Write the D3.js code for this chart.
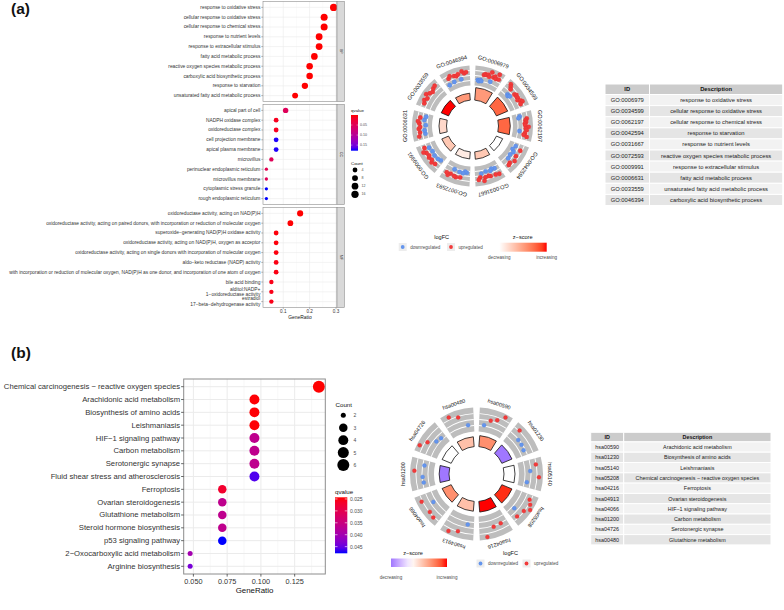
<!DOCTYPE html>
<html><head><meta charset="utf-8">
<script src="https://cdn.jsdelivr.net/npm/d3@7"></script>
<style>
body{margin:0;background:#fff}
svg{display:block}
text{font-family:"Liberation Sans",Arial,Helvetica,sans-serif}
</style>
</head><body>
<svg id="c" width="784" height="610"></svg>
<script>
// ---------------- DATA: panel (a) GO dot plot ----------------
const bpTerms = ["response to oxidative stress","cellular response to oxidative stress","cellular response to chemical stress","response to nutrient levels","response to extracellular stimulus","fatty acid metabolic process","reactive oxygen species metabolic process","carboxylic acid biosynthetic process","response to starvation","unsaturated fatty acid metabolic process"];
const bpRatio = [0.291,0.255,0.255,0.236,0.236,0.218,0.200,0.200,0.182,0.145];
const bpCount = [16,14,14,13,13,12,11,11,10,8];
const bpQ = [0.000001,0.000002,0.000002,0.000003,0.000003,0.00001,0.00002,0.00002,0.00004,0.0001];

const ccTerms = ["apical part of cell","NADPH oxidase complex","oxidoreductase complex","cell projection membrane","apical plasma membrane","microvillus","perinuclear endoplasmic reticulum","microvillus membrane","cytoplasmic stress granule","rough endoplasmic reticulum"];
const ccRatio = [0.109,0.073,0.073,0.073,0.073,0.055,0.036,0.036,0.036,0.036];
const ccCount = [6,4,4,4,4,3,2,2,2,2];
const ccQ = [0.052,0.012,0.012,0.176,0.176,0.05,0.045,0.048,0.178,0.178];

const mfTerms = ["oxidoreductase activity, acting on NAD(P)H","oxidoreductase activity, acting on paired donors, with incorporation or reduction of molecular oxygen","superoxide−generating NAD(P)H oxidase activity","oxidoreductase activity, acting on NAD(P)H, oxygen as acceptor","oxidoreductase activity, acting on single donors with incorporation of molecular oxygen","aldo−keto reductase (NADP) activity","with incorporation or reduction of molecular oxygen, NAD(P)H as one donor, and incorporation of one atom of oxygen","bile acid binding","alditol:NADP+\n1−oxidoreductase activity","estradiol\n17−beta−dehydrogenase activity"];
const mfRatio = [0.164,0.127,0.073,0.073,0.073,0.073,0.073,0.055,0.055,0.055];
const mfCount = [9,7,4,4,4,4,4,3,3,3];
const mfQ = [0.0001,0.001,0.003,0.003,0.004,0.006,0.006,0.008,0.008,0.008];

const aXTicks = [0.1,0.2,0.3];
const aXMinor = [0.05,0.15,0.25];
const aQTicks = [0.05,0.10,0.15];
const aCountTicks = [4,8,12,16];

// ---------------- DATA: panel (a) GO circle + table ----------------
const goIds = ["GO:0006979","GO:0034599","GO:0062197","GO:0042594","GO:0031667","GO:0072593","GO:0009991","GO:0006631","GO:0033559","GO:0046394"];
const goDesc = ["response to oxidative stress","cellular response to oxidative stress","cellular response to chemical stress","response to starvation","response to nutrient levels","reactive oxygen species metabolic process","response to extracellular stimulus","fatty acid metabolic process","unsaturated fatty acid metabolic process","carboxylic acid biosynthetic process"];
const goZ = [1.50,2.14,2.14,0.00,0.83,0.30,0.83,0.58,2.83,1.51];
const goNegLogP = [8.5,8.3,8.0,4.6,5.0,4.8,5.0,5.1,5.4,4.7];
const goLogFC = [
  [-0.9,-1.1,-0.8,-1.0,0.4,0.6,0.5,0.7,0.3,1.4,-0.6,0.5,0.8,0.4,1.6,0.6],
  [1.3,0.9,0.5,-0.7,-0.9,-0.6,0.4,0.7,0.5,0.6,0.3,0.8,1.1,0.5],
  [-0.5,-0.8,0.9,0.6,0.7,0.4,0.5,1.2,0.6,0.8,-0.7,0.5,0.3,1.0],
  [-0.6,0.7,-0.9,-0.4,0.5,-0.7,0.9,-0.5,0.4,0.6],
  [0.9,-0.6,0.7,-0.8,-0.5,0.6,0.4,-0.7,0.5,1.2,-0.4,0.3,0.8],
  [-0.7,-0.9,-0.5,0.5,-0.6,0.7,0.6,-0.8,0.4,0.9,0.5],
  [-0.8,0.6,-0.6,0.9,0.5,-0.5,0.7,0.4,-0.7,0.6,1.1,-0.4,0.5],
  [0.8,-0.6,0.5,-0.5,0.7,0.4,-0.8,0.6,0.9,-0.4,0.5,-0.7],
  [0.6,0.9,0.5,1.2,0.7,0.4,0.8,1.0],
  [-0.8,0.5,0.9,-0.6,0.6,0.4,0.7,-0.5,1.1,0.6,0.8]
];

// ---------------- DATA: panel (b) KEGG dot plot ----------------
const keggTerms = ["Chemical carcinogenesis − reactive oxygen species","Arachidonic acid metabolism","Biosynthesis of amino acids","Leishmaniasis","HIF−1 signaling pathway","Carbon metabolism","Serotonergic synapse","Fluid shear stress and atherosclerosis","Ferroptosis","Ovarian steroidogenesis","Glutathione metabolism","Steroid hormone biosynthesis","p53 signaling pathway","2−Oxocarboxylic acid metabolism","Arginine biosynthesis"];
const keggRatio = [0.1429,0.0952,0.0952,0.0952,0.0952,0.0952,0.0952,0.0952,0.0714,0.0714,0.0714,0.0714,0.0714,0.0476,0.0476];
const keggCount = [6,4,4,4,4,4,4,4,3,3,3,3,3,2,2];
const keggQ = [0.0243,0.0245,0.0245,0.0245,0.0365,0.0365,0.0365,0.0462,0.0270,0.0365,0.0365,0.0365,0.0478,0.0400,0.0440];
const bXTicks = [0.050,0.075,0.100,0.125];
const bXMinor = [0.0625,0.0875,0.1125,0.1375];
const bQTicks = [0.025,0.030,0.035,0.040,0.045];
const bCountTicks = [2,3,4,5,6];

// ---------------- DATA: panel (b) KEGG circle + table ----------------
const keggIds = ["hsa00590","hsa01230","hsa05140","hsa05208","hsa04216","hsa04913","hsa04066","hsa01200","hsa04726","hsa00480"];
const keggDesc = ["Arachidonic acid metabolism","Biosynthesis of amino acids","Leishmaniasis","Chemical carcinogenesis − reactive oxygen species","Ferroptosis","Ovarian steroidogenesis","HIF−1 signaling pathway","Carbon metabolism","Serotonergic synapse","Glutathione metabolism"];
const keggZ = [1.0,-1.0,0.0,1.63,1.73,0.58,1.0,-1.0,0.0,0.58];
const keggNegLogP = [1.61,1.61,1.61,1.61,1.57,1.44,1.44,1.44,1.44,1.44];
const keggLogFC = [
  [-1.45,0.2,0.9,2.55],
  [1.9,-0.2,-0.25,-0.5],
  [1.6,-0.2,2.3,-1.0],
  [1.3,2.1,2.9,1.6,-1.0,1.2],
  [0.1,0.3,2.7],
  [-0.9,1.6,2.6],
  [1.95,1.6,-0.9,2.0],
  [-0.3,-0.15,2.2,-0.5],
  [2.6,1.1,-0.8,-1.2],
  [2.4,1.4,-1.4]
];

// ====================================================
const svg = d3.select("#c");
const TXT = "#4D4D4D";

function areaSize(domain, range){
  const lin = d3.scaleLinear().domain(domain).range([0,1]).clamp(true);
  const out = d3.scaleLinear().domain([0,1]).range(range);
  return v => out(Math.sqrt(lin(v)));
}
function qColor(ext){
  return d3.scaleLinear().domain(ext).range(["red","blue"]).interpolate(d3.interpolateLab);
}
function expand(ext, f){ const p=(ext[1]-ext[0])*f; return [ext[0]-p, ext[1]+p]; }

// panel labels
svg.append("text").attr("x",11).attr("y",14).attr("font-family","'Liberation Serif','Times New Roman',serif")
  .attr("font-weight","bold").attr("font-size",15.5).attr("fill","#111").text("(a)");
svg.append("text").attr("x",11).attr("y",358).attr("font-family","'Liberation Serif','Times New Roman',serif")
  .attr("font-weight","bold").attr("font-size",15.5).attr("fill","#111").text("(b)");

// ---------------- panel (a) dot plot ----------------
(function(){
  const facets = [
    {name:"BP", terms:bpTerms, ratio:bpRatio, count:bpCount, q:bpQ},
    {name:"CC", terms:ccTerms, ratio:ccRatio, count:ccCount, q:ccQ},
    {name:"MF", terms:mfTerms, ratio:mfRatio, count:mfCount, q:mfQ}
  ];
  const allR = bpRatio.concat(ccRatio, mfRatio);
  const allQ = bpQ.concat(ccQ, mfQ);
  const allC = bpCount.concat(ccCount, mfCount);
  const L=263, R=337, top0=1.5, H=100, gap=3, sw=7.3;
  const x = d3.scaleLinear().domain(expand(d3.extent(allR),0.05)).range([L,R]);
  const col = qColor(d3.extent(allQ));
  const dia = areaSize(d3.extent(allC),[3.3,7.3]);
  const fs = 4.85;
  facets.forEach((f,k)=>{
    const t = top0 + k*(H+gap), b = t+H;
    const y = d3.scalePoint().domain(f.terms).range([t,b]).padding(0.6);
    const g = svg.append("g");
    g.append("rect").attr("x",L).attr("y",t).attr("width",R-L).attr("height",H).attr("fill","#fff");
    aXMinor.forEach(v=>g.append("line").attr("x1",x(v)).attr("x2",x(v)).attr("y1",t).attr("y2",b).attr("stroke","#F4F4F4").attr("stroke-width",0.4));
    aXTicks.forEach(v=>g.append("line").attr("x1",x(v)).attr("x2",x(v)).attr("y1",t).attr("y2",b).attr("stroke","#EBEBEB").attr("stroke-width",0.6));
    f.terms.forEach(d=>g.append("line").attr("x1",L).attr("x2",R).attr("y1",y(d)).attr("y2",y(d)).attr("stroke","#EBEBEB").attr("stroke-width",0.6));
    g.selectAll("circle.pt").data(f.terms).join("circle").attr("class","pt")
      .attr("cx",(d,i)=>x(f.ratio[i])).attr("cy",d=>y(d)).attr("r",(d,i)=>dia(f.count[i])/2)
      .attr("fill",(d,i)=>col(f.q[i]));
    g.append("rect").attr("x",L).attr("y",t).attr("width",R-L).attr("height",H).attr("fill","none").attr("stroke","#8C8C8C").attr("stroke-width",0.6);
    // strip
    g.append("rect").attr("x",R).attr("y",t).attr("width",sw).attr("height",H).attr("fill","#D9D9D9").attr("stroke","#8C8C8C").attr("stroke-width",0.6);
    g.append("text").attr("transform",`translate(${R+sw/2},${(t+b)/2}) rotate(90)`).attr("text-anchor","middle").attr("dominant-baseline","central")
      .attr("font-size",3.4).attr("fill","#1A1A1A").text(f.name);
    // y axis
    f.terms.forEach(d=>{
      g.append("line").attr("x1",L-1.8).attr("x2",L).attr("y1",y(d)).attr("y2",y(d)).attr("stroke","#555").attr("stroke-width",0.4);
      const lines = d.split("\n");
      const lh = 5.6;
      lines.forEach((s,j)=>{
        g.append("text").attr("x",L-2.6).attr("y",y(d)+(j-(lines.length-1)/2)*lh).attr("dominant-baseline","central")
          .attr("text-anchor","end").attr("font-size",fs).attr("fill","#333").text(s);
      });
    });
    if(k===2){
      aXTicks.forEach(v=>{
        g.append("line").attr("x1",x(v)).attr("x2",x(v)).attr("y1",b).attr("y2",b+1.6).attr("stroke","#555").attr("stroke-width",0.4);
        g.append("text").attr("x",x(v)).attr("y",b+4.2).attr("text-anchor","middle").attr("dominant-baseline","central")
          .attr("font-size",4.6).attr("fill","#333").text(d3.format(".1f")(v));
      });
      g.append("text").attr("x",(L+R)/2).attr("y",b+9.8).attr("text-anchor","middle").attr("dominant-baseline","central")
        .attr("font-size",4.9).attr("fill","#111").text("GeneRatio");
    }
  });
  // qvalue legend
  const lg = svg.append("g");
  const qe = d3.extent(allQ);
  const by = d3.scaleLinear().domain(qe).range([115,150.7]);
  const grad = svg.append("defs").append("linearGradient").attr("id","qa").attr("x1",0).attr("x2",0).attr("y1",0).attr("y2",1);
  d3.range(0,1.0001,0.1).forEach(p=>grad.append("stop").attr("offset",p).attr("stop-color",col(qe[0]+p*(qe[1]-qe[0]))));
  lg.append("text").attr("x",351).attr("y",110).attr("font-size",4.4).attr("fill","#111").attr("dominant-baseline","central").text("qvalue");
  lg.append("rect").attr("x",351).attr("y",115).attr("width",7).attr("height",35.7).attr("fill","url(#qa)");
  aQTicks.forEach(v=>{
    lg.append("line").attr("x1",351).attr("x2",352.4).attr("y1",by(v)).attr("y2",by(v)).attr("stroke","#fff").attr("stroke-width",0.4);
    lg.append("line").attr("x1",356.6).attr("x2",358).attr("y1",by(v)).attr("y2",by(v)).attr("stroke","#fff").attr("stroke-width",0.4);
    lg.append("text").attr("x",360).attr("y",by(v)).attr("font-size",3.6).attr("fill",TXT).attr("dominant-baseline","central").text(d3.format(".2f")(v));
  });
  lg.append("text").attr("x",351).attr("y",163).attr("font-size",4.4).attr("fill","#111").attr("dominant-baseline","central").text("Count");
  const cy = d3.scalePoint().domain(aCountTicks).range([170,194.3]);
  aCountTicks.forEach(v=>{
    lg.append("circle").attr("cx",355).attr("cy",cy(v)).attr("r",dia(v)/2).attr("fill","#000");
    lg.append("text").attr("x",361.5).attr("y",cy(v)).attr("font-size",3.6).attr("fill",TXT).attr("dominant-baseline","central").text(v);
  });
})();

// ---------------- panel (b) dot plot ----------------
(function(){
  const L=183.7, R=325.3, T=379, B=574;
  const x = d3.scaleLinear().domain(expand(d3.extent(keggRatio),0.05)).range([L,R]);
  const y = d3.scalePoint().domain(keggTerms).range([T,B]).padding(0.6);
  const qe = d3.extent(keggQ);
  const col = qColor(qe);
  const dia = areaSize(d3.extent(keggCount),[5,12]);
  const g = svg.append("g");
  g.append("rect").attr("x",L).attr("y",T).attr("width",R-L).attr("height",B-T).attr("fill","#fff");
  bXMinor.forEach(v=>g.append("line").attr("x1",x(v)).attr("x2",x(v)).attr("y1",T).attr("y2",B).attr("stroke","#F3F3F3").attr("stroke-width",0.6));
  bXTicks.forEach(v=>g.append("line").attr("x1",x(v)).attr("x2",x(v)).attr("y1",T).attr("y2",B).attr("stroke","#EBEBEB").attr("stroke-width",1));
  keggTerms.forEach(d=>g.append("line").attr("x1",L).attr("x2",R).attr("y1",y(d)).attr("y2",y(d)).attr("stroke","#EBEBEB").attr("stroke-width",1));
  g.selectAll("circle.pt").data(keggTerms).join("circle").attr("class","pt")
    .attr("cx",(d,i)=>x(keggRatio[i])).attr("cy",d=>y(d)).attr("r",(d,i)=>dia(keggCount[i])/2)
    .attr("fill",(d,i)=>col(keggQ[i]));
  g.append("rect").attr("x",L).attr("y",T).attr("width",R-L).attr("height",B-T).attr("fill","none").attr("stroke","#8C8C8C").attr("stroke-width",1);
  keggTerms.forEach(d=>{
    g.append("line").attr("x1",L-2.6).attr("x2",L).attr("y1",y(d)).attr("y2",y(d)).attr("stroke","#444").attr("stroke-width",0.8);
    g.append("text").attr("x",L-3.6).attr("y",y(d)).attr("text-anchor","end").attr("dominant-baseline","central")
      .attr("font-size",7.7).attr("fill","#333").text(d);
  });
  bXTicks.forEach(v=>{
    g.append("line").attr("x1",x(v)).attr("x2",x(v)).attr("y1",B).attr("y2",B+2.6).attr("stroke","#444").attr("stroke-width",0.8);
    g.append("text").attr("x",x(v)).attr("y",B+7.2).attr("text-anchor","middle").attr("dominant-baseline","central")
      .attr("font-size",7.3).attr("fill","#333").text(d3.format(".3f")(v));
  });
  g.append("text").attr("x",(L+R)/2).attr("y",B+16.5).attr("text-anchor","middle").attr("dominant-baseline","central")
    .attr("font-size",7.9).attr("fill","#111").text("GeneRatio");
  // legends
  const lg = svg.append("g");
  lg.append("text").attr("x",335.5).attr("y",404.3).attr("font-size",6.2).attr("fill","#111").attr("dominant-baseline","central").text("Count");
  const cy = d3.scalePoint().domain(bCountTicks).range([415.3,465]);
  bCountTicks.forEach(v=>{
    lg.append("circle").attr("cx",343.3).attr("cy",cy(v)).attr("r",dia(v)/2).attr("fill","#000");
    lg.append("text").attr("x",353.5).attr("y",cy(v)).attr("font-size",5).attr("fill",TXT).attr("dominant-baseline","central").text(v);
  });
  lg.append("text").attr("x",335).attr("y",491).attr("font-size",6.2).attr("fill","#111").attr("dominant-baseline","central").text("qvalue");
  const by = d3.scaleLinear().domain(qe).range([497.3,553.3]);
  const grad = svg.append("defs").append("linearGradient").attr("id","qb").attr("x1",0).attr("x2",0).attr("y1",0).attr("y2",1);
  d3.range(0,1.0001,0.1).forEach(p=>grad.append("stop").attr("offset",p).attr("stop-color",col(qe[0]+p*(qe[1]-qe[0]))));
  lg.append("rect").attr("x",335).attr("y",497.3).attr("width",12.3).attr("height",56).attr("fill","url(#qb)");
  bQTicks.forEach(v=>{
    lg.append("line").attr("x1",335).attr("x2",337.5).attr("y1",by(v)).attr("y2",by(v)).attr("stroke","#fff").attr("stroke-width",0.6);
    lg.append("line").attr("x1",344.8).attr("x2",347.3).attr("y1",by(v)).attr("y2",by(v)).attr("stroke","#fff").attr("stroke-width",0.6);
    lg.append("text").attr("x",350).attr("y",by(v)).attr("font-size",5).attr("fill",TXT).attr("dominant-baseline","central").text(d3.format(".3f")(v));
  });
})();

// ---------------- circles ----------------
function drawCircle(c){
  const g = svg.append("g").attr("transform",`translate(${c.cx},${c.cy})`);
  const n = c.ids.length, step = 2*Math.PI/n;
  const zmax = d3.max(c.z.map(Math.abs));
  const zs = d3.scaleLinear().domain([-zmax,0,zmax]).range(["blue","white","red"]).interpolate(d3.interpolateLab);
  const hs = d3.scaleLinear().domain([0,d3.max(c.nlp)]).range([0,c.hMax]);
  const rs = d3.scaleLinear().domain(c.lfcDomain).range([c.rO1+1.5,c.rO2-1.5]);
  const arc = d3.arc();
  c.ids.forEach((id,i)=>{
    const a0=i*step, a1=(i+1)*step;
    g.append("path").attr("d",arc({innerRadius:c.rO1,outerRadius:c.rO2,startAngle:a0+c.gO,endAngle:a1-c.gO})).attr("fill","#BDBDBD");
    [1,2,3].forEach(k=>{
      const r = c.rO1 + k*(c.rO2-c.rO1)/4;
      g.append("path").attr("d",arc({innerRadius:r-0.45,outerRadius:r+0.45,startAngle:a0+c.gO,endAngle:a1-c.gO})).attr("fill","#fff");
    });
    g.append("path").attr("d",arc({innerRadius:c.rIn,outerRadius:c.rIn+hs(c.nlp[i]),startAngle:a0+c.gI,endAngle:a1-c.gI}))
      .attr("fill",zs(c.z[i])).attr("stroke","#111").attr("stroke-width",0.8);
    const genes = c.lfc[i];
    const s0=a0+c.gO+0.05, span=(a1-c.gO-0.05)-s0;
    genes.forEach((v,j)=>{
      const a = s0 + span*(j+0.5)/genes.length, r = rs(v);
      g.append("circle").attr("cx",r*Math.sin(a)).attr("cy",-r*Math.cos(a)).attr("r",c.ptR)
        .attr("fill",v<0?"#6495ED":"#F23A3A").attr("stroke",v<0?"#4F7FD8":"#D82C2C").attr("stroke-width",0.3);
    });
    const am=(a0+a1)/2;
    g.append("text").attr("transform",`translate(${c.rLab*Math.sin(am)},${-c.rLab*Math.cos(am)}) rotate(${am*180/Math.PI})`)
      .attr("text-anchor","middle").attr("dominant-baseline","central").attr("font-size",c.fs).attr("fill","#111").text(id);
  });
  return {zs, zext:d3.extent(c.z)};
}
function circleLegend(o, zinfo, gid){
  const g = svg.append("g");
  g.append("text").attr("x",o.lfcTitleX).attr("y",o.titleY).attr("text-anchor","middle").attr("dominant-baseline","central").attr("font-size",o.tfs).attr("fill","#111").text("logFC");
  [[o.downX,"#6495ED","downregulated"],[o.upX,"#F23A3A","upregulated"]].forEach(([kx,cc,lab])=>{
    g.append("rect").attr("x",kx-4).attr("y",o.keyY-4).attr("width",8).attr("height",8).attr("fill","#EDEDED");
    g.append("circle").attr("cx",kx).attr("cy",o.keyY).attr("r",1.9).attr("fill",cc);
    g.append("text").attr("x",kx+7.5).attr("y",o.keyY).attr("dominant-baseline","central").attr("font-size",o.fs).attr("fill",TXT).text(lab);
  });
  g.append("text").attr("x",o.zTitleX).attr("y",o.titleY).attr("text-anchor","middle").attr("dominant-baseline","central").attr("font-size",o.tfs).attr("fill","#111").text("z−score");
  const grad = svg.append("defs").append("linearGradient").attr("id",gid).attr("x1",0).attr("x2",1).attr("y1",0).attr("y2",0);
  const [z0,z1] = zinfo.zext;
  d3.range(0,1.0001,0.1).forEach(p=>grad.append("stop").attr("offset",p).attr("stop-color",zinfo.zs(z0+p*(z1-z0))));
  g.append("rect").attr("x",o.gx0).attr("y",o.gy0).attr("width",o.gx1-o.gx0).attr("height",o.gh).attr("fill",`url(#${gid})`);
  g.append("text").attr("x",o.gx0).attr("y",o.labY).attr("text-anchor","middle").attr("dominant-baseline","central").attr("font-size",o.fs).attr("fill",TXT).text("decreasing");
  g.append("text").attr("x",o.gx1).attr("y",o.labY).attr("text-anchor","middle").attr("dominant-baseline","central").attr("font-size",o.fs).attr("fill",TXT).text("increasing");
}

const za = drawCircle({cx:472.5, cy:126, ids:goIds, z:goZ, nlp:goNegLogP, lfc:goLogFC, lfcDomain:[-1.8,1.8],
  rIn:26, hMax:12.5, rO1:40.5, rO2:60.5, rLab:67.5, gO:0.05, gI:0.085, ptR:2.2, fs:5.6});
circleLegend({titleY:236.7, lfcTitleX:441.7, zTitleX:522.7, downX:402.7, upX:451, keyY:247, fs:4.6, tfs:5.6,
  gx0:499.3, gx1:546.7, gy0:242.7, gh:9, labY:257.3}, za, "za");

const zb = drawCircle({cx:476.5, cy:474, ids:keggIds, z:keggZ, nlp:keggNegLogP, lfc:keggLogFC, lfcDomain:[-3,3],
  rIn:27.5, hMax:11, rO1:42.5, rO2:66.5, rLab:73.5, gO:0.05, gI:0.085, ptR:2.0, fs:5.4});
circleLegend({titleY:552.5, lfcTitleX:510.5, zTitleX:413, downX:480.5, upX:526.5, keyY:563.5, fs:4.6, tfs:5.6,
  gx0:391, gx1:447, gy0:558.5, gh:8.5, labY:577.5}, zb, "zb");

// ---------------- tables ----------------
function drawTable(t){
  const g = svg.append("g");
  const cell=(x,y,w,h,fill)=>g.append("rect").attr("x",x).attr("y",y).attr("width",w).attr("height",h).attr("fill",fill).attr("stroke","#fff").attr("stroke-width",1);
  cell(t.x0,t.y0,t.xm-t.x0,t.hh,"#CCCCCC");
  cell(t.xm,t.y0,t.x1-t.xm,t.hh,"#CCCCCC");
  g.append("text").attr("x",(t.x0+t.xm)/2).attr("y",t.y0+t.hh/2).attr("text-anchor","middle").attr("dominant-baseline","central").attr("font-weight","bold").attr("font-size",t.fs).attr("fill","#111").text("ID");
  g.append("text").attr("x",(t.xm+t.x1)/2).attr("y",t.y0+t.hh/2).attr("text-anchor","middle").attr("dominant-baseline","central").attr("font-weight","bold").attr("font-size",t.fs).attr("fill","#111").text("Description");
  t.ids.forEach((id,i)=>{
    const y = t.y0+t.hh+i*t.rh, f = i%2===0?"#F2F2F2":"#E5E5E5";
    cell(t.x0,y,t.xm-t.x0,t.rh,f);
    cell(t.xm,y,t.x1-t.xm,t.rh,f);
    g.append("text").attr("x",(t.x0+t.xm)/2).attr("y",y+t.rh/2).attr("text-anchor","middle").attr("dominant-baseline","central").attr("font-size",t.fs).attr("fill","#222").text(id);
    g.append("text").attr("x",(t.xm+t.x1)/2).attr("y",y+t.rh/2).attr("text-anchor","middle").attr("dominant-baseline","central").attr("font-size",t.fs).attr("fill","#222").text(t.desc[i]);
  });
}
drawTable({ids:goIds, desc:goDesc, x0:605, xm:649.5, x1:782.7, y0:84, hh:10.5, rh:11.1, fs:5.8});
drawTable({ids:keggIds, desc:keggDesc, x0:590.7, xm:623.7, x1:771, y0:432.3, hh:9.6, rh:10.3, fs:5.4});
</script>
</body></html>
